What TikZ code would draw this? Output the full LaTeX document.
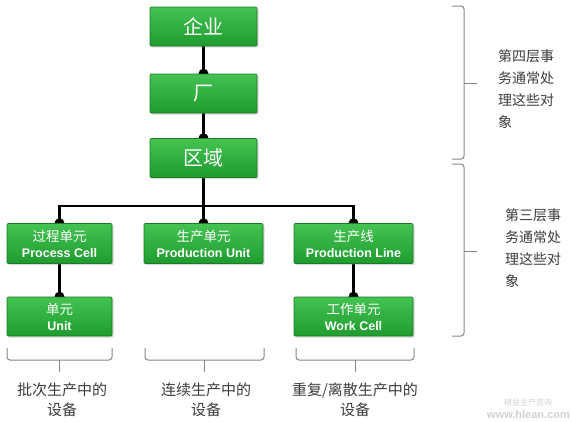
\documentclass[tikz,border=0pt]{standalone}
\usepackage{fontspec}
\setmainfont{Liberation Sans}
\newfontfamily\cjk{Noto Sans CJK SC}
\usetikzlibrary{shadows,backgrounds}
\definecolor{gtop}{HTML}{44C252}
\definecolor{gbot}{HTML}{1E9C2E}
\definecolor{gedge}{HTML}{1A7A28}
\definecolor{bracegray}{HTML}{858585}
\definecolor{txtgray}{HTML}{3C3C3C}
\begin{document}
\begin{tikzpicture}[x=1pt,y=-1pt,
  box/.style={rectangle, rounded corners=1pt, top color=gtop, bottom color=gbot, draw=gedge, line width=0.6pt, text=white, inner sep=0pt, align=center, drop shadow={shadow xshift=1.5pt,shadow yshift=-1.5pt,opacity=0.3}},
  topbox/.style={box, minimum width=107pt, minimum height=39pt, font=\cjk\fontsize{20}{24}\selectfont},
  lowbox/.style={box, minimum height=40pt, font=\fontsize{12.5}{16}\selectfont\bfseries},
  conn/.style={line width=2.2pt, black},
  bump/.style={black},
  brace/.style={draw=bracegray, line width=1pt, rounded corners=3pt},
  bracetip/.style={draw=bracegray, line width=1pt},
  side/.style={text=txtgray, font=\cjk\fontsize{14}{22}\selectfont, align=left, inner sep=0pt, anchor=north west},
  bottomtxt/.style={text=txtgray, font=\cjk\fontsize{15}{20}\selectfont, align=center, inner sep=0pt},
  wmark/.style={text=black!18, inner sep=0pt}]
\useasboundingbox (0,0) rectangle (571,421);

% boxes
\node[topbox] (ent) at (203.5,26.5) {企业};
\node[topbox] (plant) at (203.5,93.5) {厂};
\node[topbox] (area) at (203.5,158) {区域};
\node[lowbox, minimum width=105pt] (pc) at (59.5,243.5) {{\cjk\mdseries\fontsize{13.5}{16}\selectfont 过程单元}\\Process Cell};
\node[lowbox, minimum width=119pt] (pu) at (203.5,243.5) {{\cjk\mdseries\fontsize{13.5}{16}\selectfont 生产单元}\\Production Unit};
\node[lowbox, minimum width=119pt] (pl) at (353.5,243.5) {{\cjk\mdseries\fontsize{13.5}{16}\selectfont 生产线}\\Production Line};
\node[lowbox, minimum width=105pt, minimum height=39pt] (unit) at (59.5,316.5) {{\cjk\mdseries\fontsize{13.5}{16}\selectfont 单元}\\Unit};
\node[lowbox, minimum width=119pt, minimum height=39pt] (wc) at (353.5,316.5) {{\cjk\mdseries\fontsize{13.5}{16}\selectfont 工作单元}\\Work Cell};

% connectors
\begin{scope}[on background layer]
\coordinate (j) at (203.5,206);
\draw[conn] (ent.south) -- (plant.north);
\draw[conn] (plant.south) -- (area.north);
\draw[conn] (area.south) -- (j);
\draw[conn] (pc.north) |- (j) -| (pl.north);
\draw[conn] (j) -- (pu.north);
\draw[conn] (pc.south) -- (unit.north);
\draw[conn] (pl.south) -- (wc.north);
\foreach \n in {plant,area,pc,pu,pl,unit,wc}
  \fill[bump] (\n.north) circle[radius=5];
\end{scope}

% right braces
\draw[brace] (452,6) -- (464,6) -- (464,159) -- (452,159);
\draw[bracetip] (464,83) -- (477,83);
\draw[brace] (452,164) -- (464,164) -- (464,336) -- (452,336);
\draw[bracetip] (464,251) -- (477,251);

\node[side] (t4) at (498,49) {第四层事\\务通常处\\理这些对\\象};
\node[side] (t3) at (505,208) {第三层事\\务通常处\\理这些对\\象};

% bottom braces
\draw[brace] (7,348) -- (7,360) -- (112,360) -- (112,348);
\draw[bracetip] (59.5,360) -- (59.5,372);
\draw[brace] (145,348) -- (145,360) -- (264,360) -- (264,348);
\draw[bracetip] (204,360) -- (204,372);
\draw[brace] (296,348) -- (296,360) -- (414,360) -- (414,348);
\draw[bracetip] (355,360) -- (355,372);

\node[bottomtxt] (b1) at (62,400) {批次生产中的\\设备};
\node[bottomtxt] (b2) at (206,400) {连续生产中的\\设备};
\node[bottomtxt] (b3) at (355,400) {重复/离散生产中的\\设备};

% watermark
\node[wmark, font=\cjk\fontsize{8}{8}\selectfont] (wm1) at (528,402) {精益生产咨询};
\node[wmark, font=\bfseries\fontsize{11}{11}\selectfont] (wm2) at (528.5,415) {www.hlean.com};
\end{tikzpicture}
\end{document}
